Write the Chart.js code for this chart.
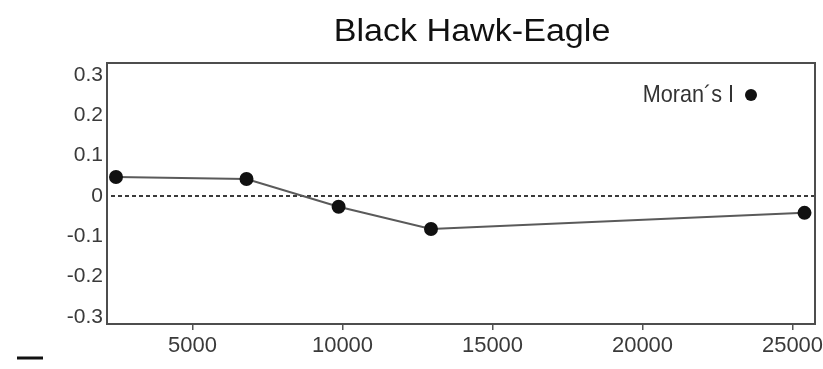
<!DOCTYPE html>
<html lang="en">

<head>
  <meta charset="UTF-8">
  <title>Black Hawk-Eagle</title>
  <script src="https://cdn.jsdelivr.net/npm/chart.js@4.4.1/dist/chart.umd.min.js"></script>
  <style>
    body {
      margin: 0;
      background: #fff;
    }

    canvas {
      display: block;
    }
  </style>
</head>

<body>
  <canvas id="moranchart" width="823" height="369"></canvas>
  <script>
    // values
    const lagDistances = [2450, 6800, 9870, 12950, 25400];
    const moransI = [0.047, 0.042, -0.027, -0.082, -0.042];
    const xTicks = [5000, 10000, 15000, 20000, 25000];
    const yTicks = [-0.3, -0.2, -0.1, 0, 0.1, 0.2, 0.3];
    const xRange = [2150, 25750];
    const yRange = [-0.318, 0.33];
    const seriesName = 'Moran´s I';
    const chartTitle = 'Black Hawk-Eagle';

    Chart.defaults.font.family = "'Liberation Sans', Arial, sans-serif";

    // frame, dotted zero line, title, legend
    const extras = {
      id: 'extras',
      beforeDatasetsDraw(chart) {
        const ctx = chart.ctx;
        const a = chart.chartArea;
        const y0 = chart.scales.y.getPixelForValue(0);
        ctx.save();
        ctx.strokeStyle = '#3a3a3a';
        ctx.lineWidth = 2;
        ctx.setLineDash([4, 3]);
        ctx.beginPath();
        ctx.moveTo(a.left + 4, y0);
        ctx.lineTo(a.right, y0);
        ctx.stroke();
        ctx.setLineDash([]);
        ctx.strokeStyle = '#4d4d4d';
        ctx.strokeRect(a.left, a.top, a.right - a.left, a.bottom - a.top);
        ctx.restore();
      },
      afterDraw(chart) {
        const ctx = chart.ctx;
        const a = chart.chartArea;
        ctx.save();
        // title
        ctx.fillStyle = '#111';
        ctx.font = "31px 'Liberation Sans', Arial, sans-serif";
        ctx.textAlign = 'center';
        ctx.textBaseline = 'alphabetic';
        ctx.translate((a.left + a.right) / 2 + 11, a.top - 22);
        ctx.scale(1.1, 1);
        ctx.fillText(chartTitle, 0, 0);
        ctx.restore();

        // legend
        ctx.save();
        ctx.fillStyle = '#333';
        ctx.font = "24px 'Liberation Sans', Arial, sans-serif";
        ctx.textAlign = 'right';
        ctx.textBaseline = 'middle';
        ctx.translate(a.right - 81, a.top + 32);
        ctx.scale(0.9, 1);
        ctx.fillText(seriesName, 0, 0);
        ctx.restore();
        ctx.save();
        ctx.fillStyle = '#111';
        ctx.beginPath();
        ctx.arc(a.right - 64, a.top + 32, 6, 0, Math.PI * 2);
        ctx.fill();

        // stray mark in the bottom-left corner
        ctx.strokeStyle = '#111';
        ctx.lineWidth = 3;
        ctx.beginPath();
        ctx.moveTo(17, chart.height - 11);
        ctx.lineTo(43, chart.height - 11);
        ctx.stroke();
        ctx.restore();
      }
    };

    const ctx = document.getElementById('moranchart').getContext('2d');
    const myChart = new Chart(ctx, {
      type: 'line',
      data: {
        datasets: [{
          label: seriesName,
          data: lagDistances.map((x, i) => ({ x: x, y: moransI[i] })),
          borderColor: '#5a5a5a',
          borderWidth: 2,
          pointBackgroundColor: '#111',
          pointBorderColor: '#111',
          pointRadius: 6,
          pointHoverRadius: 6,
          tension: 0,
          clip: false
        }]
      },
      options: {
        responsive: false,
        animation: false,
        layout: {
          padding: { left: 0, top: 63, right: 7, bottom: 0 }
        },
        scales: {
          x: {
            type: 'linear',
            min: xRange[0],
            max: xRange[1],
            afterBuildTicks: function (scale) {
              scale.ticks = xTicks.map(v => ({ value: v }));
            },
            afterFit: function (scale) {
              scale.height = 45;
              scale.paddingLeft = 0;
              scale.paddingRight = 0;
            },
            border: { display: false },
            grid: {
              drawOnChartArea: false,
              drawTicks: true,
              tickLength: 6,
              color: '#555',
              lineWidth: 1.5
            },
            ticks: {
              color: '#3a3a3a',
              font: { size: 22 },
              padding: 3,
              maxRotation: 0,
              autoSkip: false,
              callback: function (value) {
                return String(value);
              }
            }
          },
          y: {
            min: yRange[0],
            max: yRange[1],
            afterBuildTicks: function (scale) {
              scale.ticks = yTicks.map(v => ({ value: v }));
            },
            afterFit: function (scale) {
              scale.width = 107;
              scale.paddingTop = 0;
              scale.paddingBottom = 0;
            },
            border: { display: false },
            grid: {
              display: false,
              drawTicks: false
            },
            ticks: {
              color: '#3a3a3a',
              font: { size: 21 },
              padding: 4,
              autoSkip: false,
              callback: function (value) {
                return String(value);
              }
            }
          }
        },
        plugins: {
          legend: { display: false },
          tooltip: { enabled: false }
        }
      },
      plugins: [extras]
    });
  </script>
</body>

</html>
